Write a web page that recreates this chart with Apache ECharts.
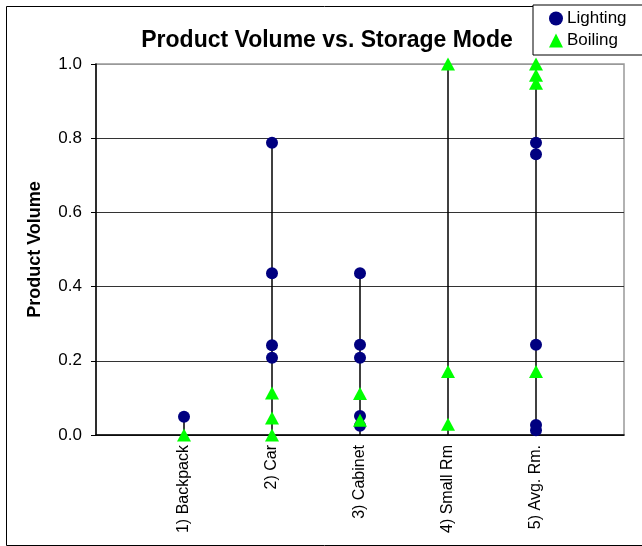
<!DOCTYPE html>
<html>
<head>
<meta charset="utf-8">
<script src="https://cdn.jsdelivr.net/npm/echarts@6/dist/echarts.min.js"></script>
<style>
html,body{margin:0;padding:0;background:#fff;}
#c{width:642px;height:546px;}
</style>
</head>
<body>
<div id="c"></div>
<script>
var categories = ['1) Backpack', '2) Car', '3) Cabinet', '4) Small Rm', '5) Avg. Rm.'];
var lightingValues = [
  [0.049],
  [0.788, 0.436, 0.242, 0.208],
  [0.436, 0.243, 0.208, 0.051, 0.025],
  [],
  [0.788, 0.757, 0.243, 0.027, 0.013]
];
var boilingValues = [
  [0],
  [0.113, 0.046, 0],
  [0.112, 0.040],
  [1.0, 0.171, 0.029],
  [1.0, 0.970, 0.948, 0.171]
];
var yTicks = [0, 0.2, 0.4, 0.6, 0.8, 1.0];

function toPoints(groups) {
  var pts = [];
  groups.forEach(function (g, i) {
    g.forEach(function (v) { pts.push([i + 1, v]); });
  });
  return pts;
}
var rangeData = categories.map(function (c, i) {
  var all = lightingValues[i].concat(boilingValues[i]);
  return [i + 1, Math.max.apply(null, all)];
});

var chart = echarts.init(document.getElementById('c'), null, {renderer: 'canvas'});
var font = '"Liberation Sans", Arial, sans-serif';
chart.setOption({
  animation: false,
  backgroundColor: '#fff',
  textStyle: {fontFamily: font},
  title: {
    text: 'Product Volume vs. Storage Mode',
    left: 322, top: 24, textAlign: 'center',
    textStyle: {fontFamily: font, fontSize: 23, fontWeight: 'bold', color: '#000'}
  },
  legend: {
    left: 533, top: 5, orient: 'vertical',
    backgroundColor: '#fff', borderColor: '#000', borderWidth: 1,
    padding: [5, 30, 6, 16], itemGap: 5, itemWidth: 14, itemHeight: 14,
    textStyle: {fontFamily: font, fontSize: 17, color: '#000', padding: [0, 0, 0, -1]},
    data: [{name: 'Lighting', icon: 'circle'}, {name: 'Boiling', icon: 'triangle'}]
  },
  graphic: [{
    type: 'rect', left: 4, top: 4, z: -10, silent: true,
    shape: {width: 636, height: 539},
    style: {fill: 'none', stroke: '#000', lineWidth: 1}
  }],
  grid: {
    left: 96, right: 18, top: 64, bottom: 111,
    show: true, borderColor: '#999', borderWidth: 1.5, backgroundColor: '#fff'
  },
  xAxis: {
    type: 'value', min: 0, max: 6, interval: 1,
    axisLine: {show: true, lineStyle: {color: '#000', width: 1.5}},
    axisTick: {show: false},
    splitLine: {show: false},
    axisLabel: {
      rotate: 90, margin: 10, fontSize: 16, color: '#000', fontFamily: font,
      formatter: function (v) { return categories[v - 1] || ''; }
    }
  },
  yAxis: {
    type: 'value', min: 0, max: 1, interval: 0.2,
    name: 'Product Volume', nameLocation: 'middle', nameGap: 52, nameRotate: 90,
    nameTextStyle: {fontFamily: font, fontSize: 18, fontWeight: 'bold', color: '#000'},
    axisLine: {show: true, lineStyle: {color: '#000', width: 1.5}},
    axisTick: {show: true, inside: false, length: 5, lineStyle: {color: '#000'}},
    splitLine: {show: true, lineStyle: {color: ['#333', '#333', '#333', '#333', '#333', '#999'], width: 1}},
    axisLabel: {
      fontSize: 17, color: '#000', margin: 14, fontFamily: font,
      formatter: function (v) { return v.toFixed(1); }
    }
  },
  series: [
    {
      type: 'custom', name: 'range', silent: true, z: 1,
      data: rangeData,
      renderItem: function (params, api) {
        var p0 = api.coord([api.value(0), 0]);
        var p1 = api.coord([api.value(0), api.value(1)]);
        return {
          type: 'line',
          shape: {x1: p0[0], y1: p0[1], x2: p1[0], y2: p1[1]},
          style: {stroke: '#000', lineWidth: 1.5}
        };
      }
    },
    {
      type: 'scatter', name: 'Lighting', z: 3, clip: false,
      symbol: 'circle', symbolSize: 12,
      itemStyle: {color: '#000080', opacity: 1},
      data: toPoints(lightingValues)
    },
    {
      type: 'scatter', name: 'Boiling', z: 4, clip: false,
      symbol: 'triangle', symbolSize: [14, 13],
      itemStyle: {color: '#00ff00', opacity: 1},
      data: toPoints(boilingValues)
    }
  ]
});
</script>
</body>
</html>
